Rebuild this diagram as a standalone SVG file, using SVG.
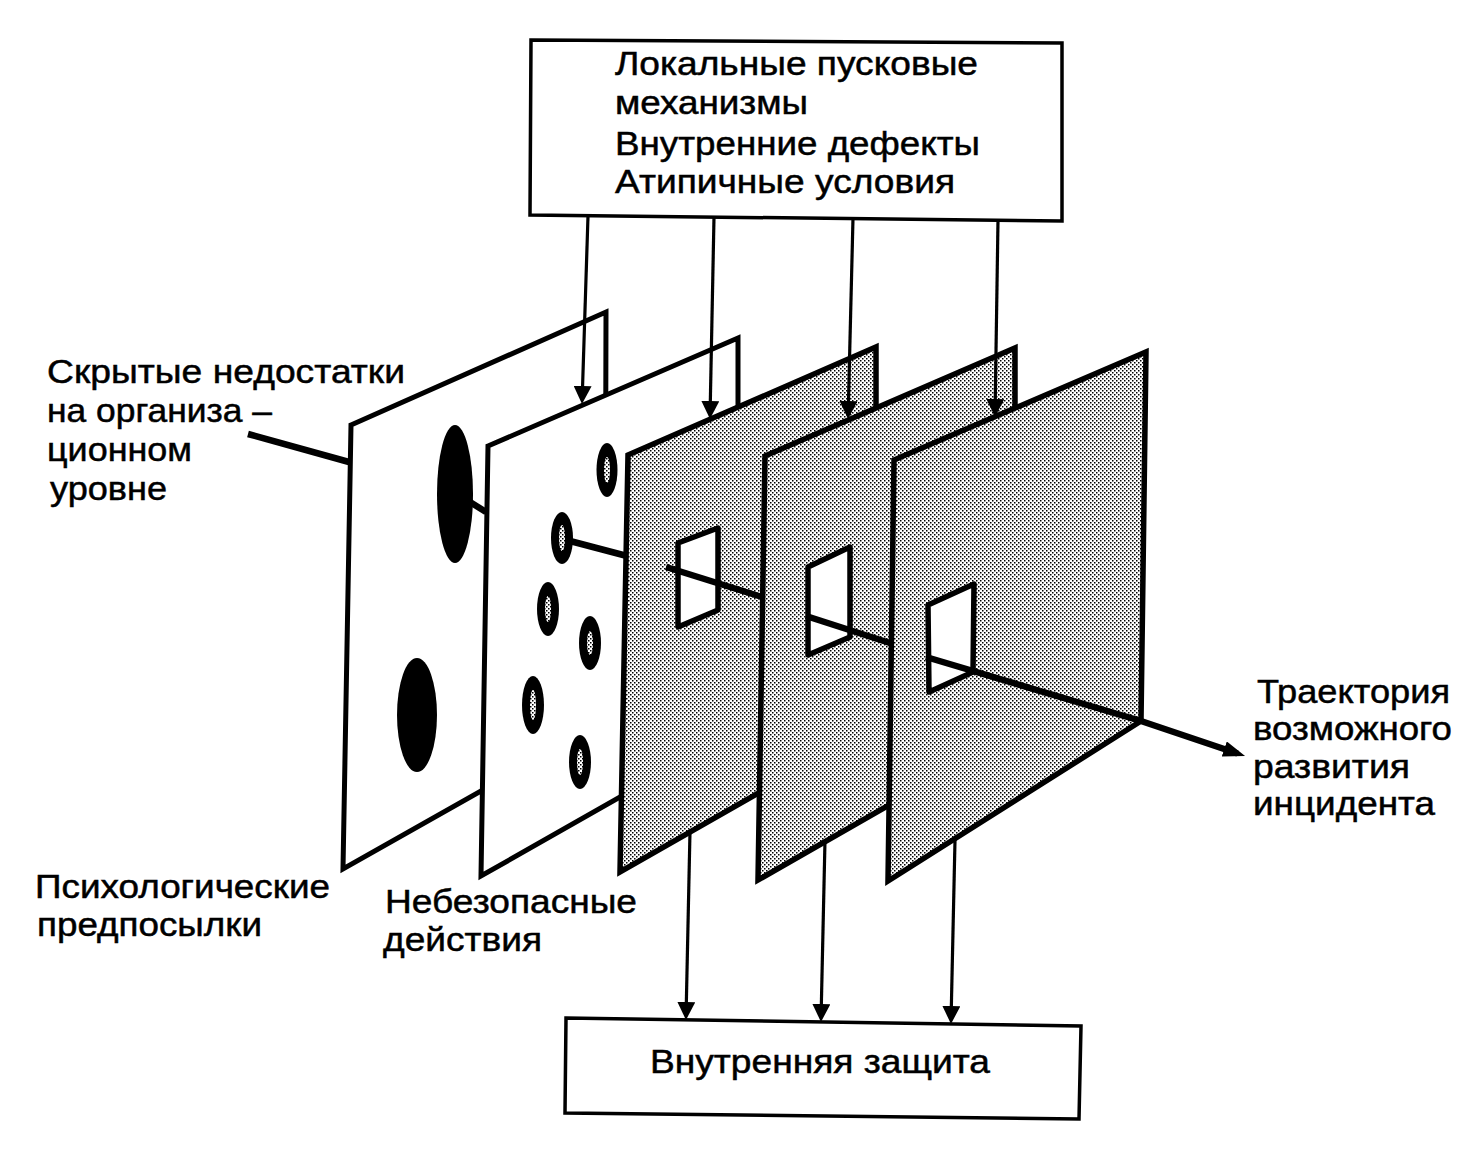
<svg xmlns="http://www.w3.org/2000/svg" width="1472" height="1152" viewBox="0 0 1472 1152">
<defs>
<style>
.t{font-family:"Liberation Sans",Arial,"Noto Sans",sans-serif;font-size:34px;fill:#000;stroke:#000;stroke-width:0.5}
.box{fill:#fff;stroke:#000;stroke-width:3.5}
.pw{fill:#fff;stroke:#000;stroke-width:5;stroke-linejoin:miter}
.ps{fill:url(#stip);stroke:#000;stroke-width:5.5;stroke-linejoin:miter}
.win{fill:#fff;stroke:#000;stroke-width:5.5;stroke-linejoin:round}
.hole{fill:#000}
.holein{fill:url(#stip)}
.ar{stroke:#000;stroke-width:3.2;fill:none;marker-end:url(#ah)}
.traj{stroke:#000;stroke-width:6.5;fill:none;stroke-linecap:butt}
</style>
<pattern id="stip" width="4" height="4" patternUnits="userSpaceOnUse">
<rect width="4" height="4" fill="#fff"/>
<rect x="0" y="0" width="1.5" height="1.5" fill="#000"/>
<rect x="2" y="2" width="1.5" height="1.5" fill="#000"/>
</pattern>
<marker id="ah" viewBox="0 0 18 18" refX="12" refY="9" markerWidth="18" markerHeight="18" markerUnits="userSpaceOnUse" orient="auto">
<path d="M0,0 L18,9 L0,18 z" fill="#000"/>
</marker>
<marker id="bah" viewBox="0 0 22 16" refX="14" refY="8" markerWidth="22" markerHeight="16" markerUnits="userSpaceOnUse" orient="auto">
<path d="M0,0 L22,8 L0,16 z" fill="#000"/>
</marker>
</defs>
<rect width="1472" height="1152" fill="#fff"/>

<g id="triggers">
<polygon class="box" points="531,40 1062,43 1062,221 530,215"/>
<text class="t" x="615" y="75" textLength="363" lengthAdjust="spacingAndGlyphs">Локальные пусковые</text>
<text class="t" x="615" y="114" textLength="193" lengthAdjust="spacingAndGlyphs">механизмы</text>
<text class="t" x="615" y="155" textLength="365" lengthAdjust="spacingAndGlyphs">Внутренние дефекты</text>
<text class="t" x="615" y="193" textLength="340" lengthAdjust="spacingAndGlyphs">Атипичные условия</text>
</g>

<g id="plane1">
<polygon class="pw" points="351,425 606,312 605,721 343,869"/>
<ellipse class="hole" cx="455" cy="494" rx="18" ry="69"/>
<ellipse class="hole" cx="417" cy="715" rx="20" ry="57"/>
</g>

<g id="plane2">
<polygon class="pw" points="488,446 738,338 738,730 481,876"/>
<ellipse class="hole" cx="607" cy="470" rx="10.5" ry="27"/>
<ellipse class="holein" cx="607" cy="470" rx="3" ry="13"/>
<ellipse class="hole" cx="562" cy="538" rx="11" ry="26"/>
<ellipse class="holein" cx="562" cy="538" rx="3" ry="13"/>
<ellipse class="hole" cx="548" cy="609" rx="11" ry="27"/>
<ellipse class="holein" cx="548" cy="609" rx="3" ry="13"/>
<ellipse class="hole" cx="590" cy="643" rx="11" ry="27"/>
<ellipse class="holein" cx="590" cy="643" rx="3" ry="12"/>
<ellipse class="hole" cx="533" cy="705" rx="11" ry="29"/>
<ellipse class="holein" cx="533" cy="705" rx="3" ry="15"/>
<ellipse class="hole" cx="580" cy="762" rx="11" ry="27"/>
<ellipse class="holein" cx="580" cy="762" rx="3" ry="13"/>
</g>

<g id="plane3">
<polygon class="ps" points="628,455 876,347 876,726 620,872"/>
<polygon class="win" points="678,543 718,528 718,610 678,627"/>
</g>

<g id="plane4">
<polygon class="ps" points="765,456 1015,348 1015,733 758,880"/>
<polygon class="win" points="808,567 850,547 850,637 808,655"/>
</g>

<g id="plane5">
<polygon class="ps" points="894,460 1146,352 1141,721 888,881"/>
<polygon class="win" points="928,605 974,584 973,672 929,692"/>
</g>

<g id="defense">
<polygon class="box" points="566,1018 1081,1026 1079,1119 565,1113"/>
<text class="t" x="650" y="1073" textLength="340" lengthAdjust="spacingAndGlyphs">Внутренняя защита</text>
</g>

<g id="label-latent">
<text class="t" x="47" y="383" textLength="358" lengthAdjust="spacingAndGlyphs">Скрытые недостатки</text>
<text class="t" x="47" y="422" textLength="225" lengthAdjust="spacingAndGlyphs">на организа –</text>
<text class="t" x="47" y="461" textLength="145" lengthAdjust="spacingAndGlyphs">ционном</text>
<text class="t" x="50" y="500" textLength="117" lengthAdjust="spacingAndGlyphs">уровне</text>
</g>

<g id="label-psych">
<text class="t" x="35" y="898" textLength="295" lengthAdjust="spacingAndGlyphs">Психологические</text>
<text class="t" x="37" y="936" textLength="225" lengthAdjust="spacingAndGlyphs">предпосылки</text>
</g>

<g id="label-unsafe">
<text class="t" x="385" y="913" textLength="252" lengthAdjust="spacingAndGlyphs">Небезопасные</text>
<text class="t" x="383" y="951" textLength="159" lengthAdjust="spacingAndGlyphs">действия</text>
</g>

<g id="label-trajectory">
<text class="t" x="1257" y="703" textLength="193" lengthAdjust="spacingAndGlyphs">Траектория</text>
<text class="t" x="1253" y="740" textLength="199" lengthAdjust="spacingAndGlyphs">возможного</text>
<text class="t" x="1253" y="778" textLength="157" lengthAdjust="spacingAndGlyphs">развития</text>
<text class="t" x="1253" y="815" textLength="182" lengthAdjust="spacingAndGlyphs">инцидента</text>
</g>

<g id="connectors">
<line class="ar" x1="588" y1="216" x2="582.2" y2="398"/>
<line class="ar" x1="714" y1="217" x2="710.1" y2="413"/>
<line class="ar" x1="853" y1="218" x2="848.2" y2="413"/>
<line class="ar" x1="998" y1="220" x2="995.1" y2="411"/>
<line class="ar" x1="690" y1="831" x2="686.1" y2="1014"/>
<line class="ar" x1="825" y1="840" x2="821.1" y2="1016"/>
<line class="ar" x1="955" y1="840" x2="951.1" y2="1018"/>
<line class="traj" x1="248" y1="434" x2="349" y2="462"/>
<line class="traj" x1="470" y1="502" x2="486" y2="512" stroke-width="5"/>
<line class="traj" x1="570" y1="541" x2="627" y2="556"/>
<line class="traj" x1="666" y1="567" x2="762" y2="597"/>
<line class="traj" x1="806" y1="616" x2="893" y2="644"/>
<polyline class="traj" points="926,657 1141,721 1237.5,753.5" marker-end="url(#bah)"/>
</g>
</svg>
